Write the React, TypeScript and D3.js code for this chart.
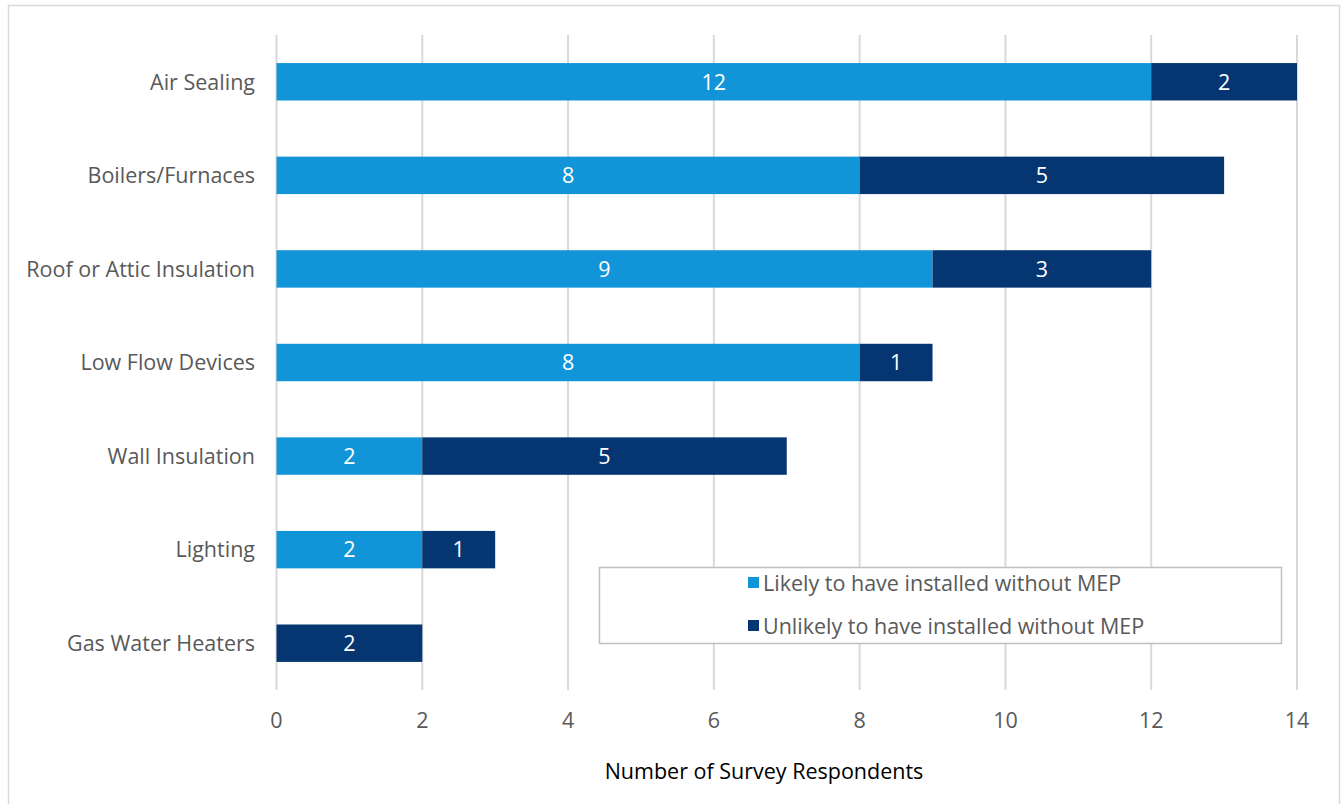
import React from "react";
import * as d3 from "d3";

const categories = [
  "Air Sealing",
  "Boilers/Furnaces",
  "Roof or Attic Insulation",
  "Low Flow Devices",
  "Wall Insulation",
  "Lighting",
  "Gas Water Heaters",
];
const likely = [12, 8, 9, 8, 2, 2, 0];
const unlikely = [2, 5, 3, 1, 5, 1, 2];
const seriesNames = [
  "Likely to have installed without MEP",
  "Unlikely to have installed without MEP",
];
const xTicks = [0, 2, 4, 6, 8, 10, 12, 14];
const axisTitle = "Number of Survey Respondents";

const COLORS = ["#1295d8", "#053672"];
const FONT = "'Open Sans', 'Liberation Sans', Arial, sans-serif";
const FS = 21.5;

export default function App() {
  const W = 1341;
  const H = 804;
  const x = d3.scaleLinear().domain([0, 14]).range([276.5, 1297]);
  const y = d3.scaleBand<string>().domain(categories).range([35, 690]).paddingInner(0.6).paddingOuter(0.3);
  const series = [likely, unlikely];

  return (
    <svg
      width={W}
      height={H}
      style={{ position: "absolute", left: 0, top: 0, background: "#fff" }}
      fontFamily={FONT}
    >
      <rect x={8.5} y={5.5} width={1331} height={820} fill="#fff" stroke="#d9d9d9" strokeWidth={1.5} />
      {xTicks.map((t) => (
        <line key={"g" + t} x1={x(t)} x2={x(t)} y1={35} y2={690} stroke="#d9d9d9" strokeWidth={2} />
      ))}
      {categories.map((c, i) => {
        let acc = 0;
        const by = y(c)!;
        const bh = y.bandwidth();
        return (
          <g key={c}>
            {series.map((s, si) => {
              const v = s[i];
              const x0 = x(acc);
              acc += v;
              const x1 = x(acc);
              if (v === 0) return null;
              return (
                <g key={si}>
                  <rect x={x0} y={by} width={x1 - x0} height={bh} fill={COLORS[si]} />
                  <text
                    x={(x0 + x1) / 2}
                    y={by + bh / 2}
                    dy="0.36em"
                    textAnchor="middle"
                    fill="#fff"
                    fontSize={FS}
                  >
                    {v}
                  </text>
                </g>
              );
            })}
            <text x={255} y={by + bh / 2} dy="0.36em" textAnchor="end" fill="#595959" fontSize={FS}>
              {c}
            </text>
          </g>
        );
      })}
      {xTicks.map((t) => (
        <text key={"t" + t} x={x(t)} y={720} dy="0.36em" textAnchor="middle" fill="#595959" fontSize={FS}>
          {t}
        </text>
      ))}
      <text x={764} y={771} dy="0.36em" textAnchor="middle" fill="#000" fontSize={FS}>
        {axisTitle}
      </text>
      <rect x={599.5} y={567.5} width={682} height={76} fill="#fff" stroke="#bfbfbf" strokeWidth={1.5} />
      {seriesNames.map((n, i) => {
        const cy = 583 + i * 43;
        return (
          <g key={n}>
            <rect x={748} y={cy - 6} width={11} height={11} fill={COLORS[i]} />
            <text x={763} y={cy} dy="0.36em" fill="#595959" fontSize={FS}>
              {n}
            </text>
          </g>
        );
      })}
    </svg>
  );
}
